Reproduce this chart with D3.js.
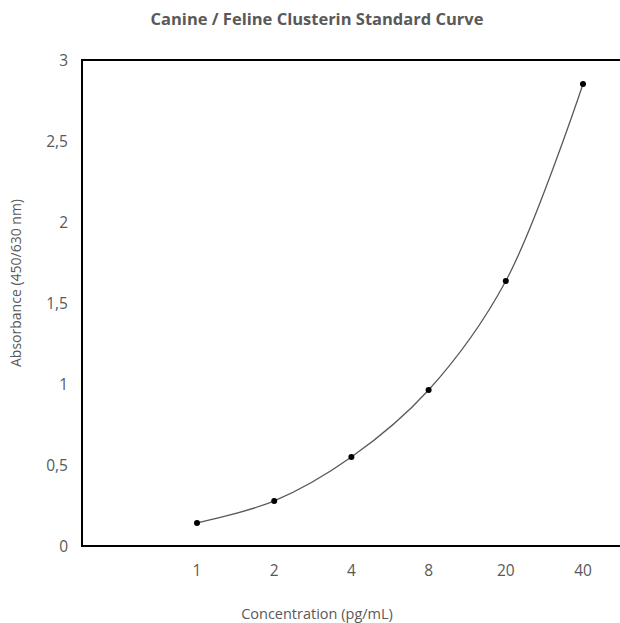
<!DOCTYPE html>
<html>
<head>
<meta charset="utf-8">
<script src="https://cdn.jsdelivr.net/npm/d3@7"></script>
<style>
  body { margin: 0; background: #fff; }
  text { font-family: "Open Sans", sans-serif; fill: #595959; }
</style>
</head>
<body>
<svg id="chart" width="620" height="623"></svg>
<script>
var concentrations = ["1", "2", "4", "8", "20", "40"];
var absorbance = [0.142, 0.278, 0.549, 0.963, 1.636, 2.852];
var yTicks = [0, 0.5, 1, 1.5, 2, 2.5, 3];

var svg = d3.select("#chart");
var plotLeft = 82, plotTop = 60, plotBottom = 546, plotRight = 620;

var x = d3.scalePoint().domain(concentrations).range([197, 583]);
var y = d3.scaleLinear().domain([0, 3]).range([plotBottom, plotTop]);

// title
svg.append("text")
    .attr("x", 317).attr("y", 25)
    .attr("text-anchor", "middle")
    .style("font-size", "16.5px").style("font-weight", "bold")
    .text("Canine / Feline Clusterin Standard Curve");

// y tick labels (comma decimals)
svg.selectAll(".ytick").data(yTicks).enter().append("text")
    .attr("class", "ytick")
    .attr("x", 68).attr("y", function (d) { return y(d) + 6; })
    .attr("text-anchor", "end")
    .style("font-size", "15.5px")
    .text(function (d) { return String(d).replace(".", ","); });

// x tick labels
svg.selectAll(".xtick").data(concentrations).enter().append("text")
    .attr("class", "xtick")
    .attr("x", function (d) { return x(d); }).attr("y", 576)
    .attr("text-anchor", "middle")
    .style("font-size", "15.5px")
    .text(function (d) { return d; });

// box (left, top, bottom; right side runs off the picture)
var frame = svg.append("g").attr("stroke", "#000").attr("stroke-width", 2).attr("fill", "none");
frame.append("line").attr("x1", plotLeft).attr("x2", plotRight).attr("y1", plotTop).attr("y2", plotTop);
frame.append("line").attr("x1", plotLeft).attr("x2", plotRight).attr("y1", plotBottom).attr("y2", plotBottom);
frame.append("line").attr("x1", plotLeft).attr("x2", plotLeft).attr("y1", plotTop - 1).attr("y2", plotBottom + 1);

// smooth curve
var pts = concentrations.map(function (c, i) { return [x(c), y(absorbance[i])]; });
svg.append("path")
    .attr("d", d3.line().curve(d3.curveCatmullRom.alpha(0.5))(pts))
    .attr("fill", "none").attr("stroke", "#595959").attr("stroke-width", 1.3);

svg.selectAll(".dot").data(pts).enter().append("circle")
    .attr("class", "dot")
    .attr("cx", function (d) { return d[0]; }).attr("cy", function (d) { return d[1]; })
    .attr("r", 3).attr("fill", "#000");

// axis titles
svg.append("text")
    .attr("x", 317).attr("y", 619)
    .attr("text-anchor", "middle")
    .style("font-size", "14.5px")
    .text("Concentration (pg/mL)");

svg.append("text")
    .attr("transform", "translate(21,283) rotate(-90)")
    .attr("text-anchor", "middle")
    .style("font-size", "14px")
    .text("Absorbance (450/630 nm)");
</script>
</body>
</html>
